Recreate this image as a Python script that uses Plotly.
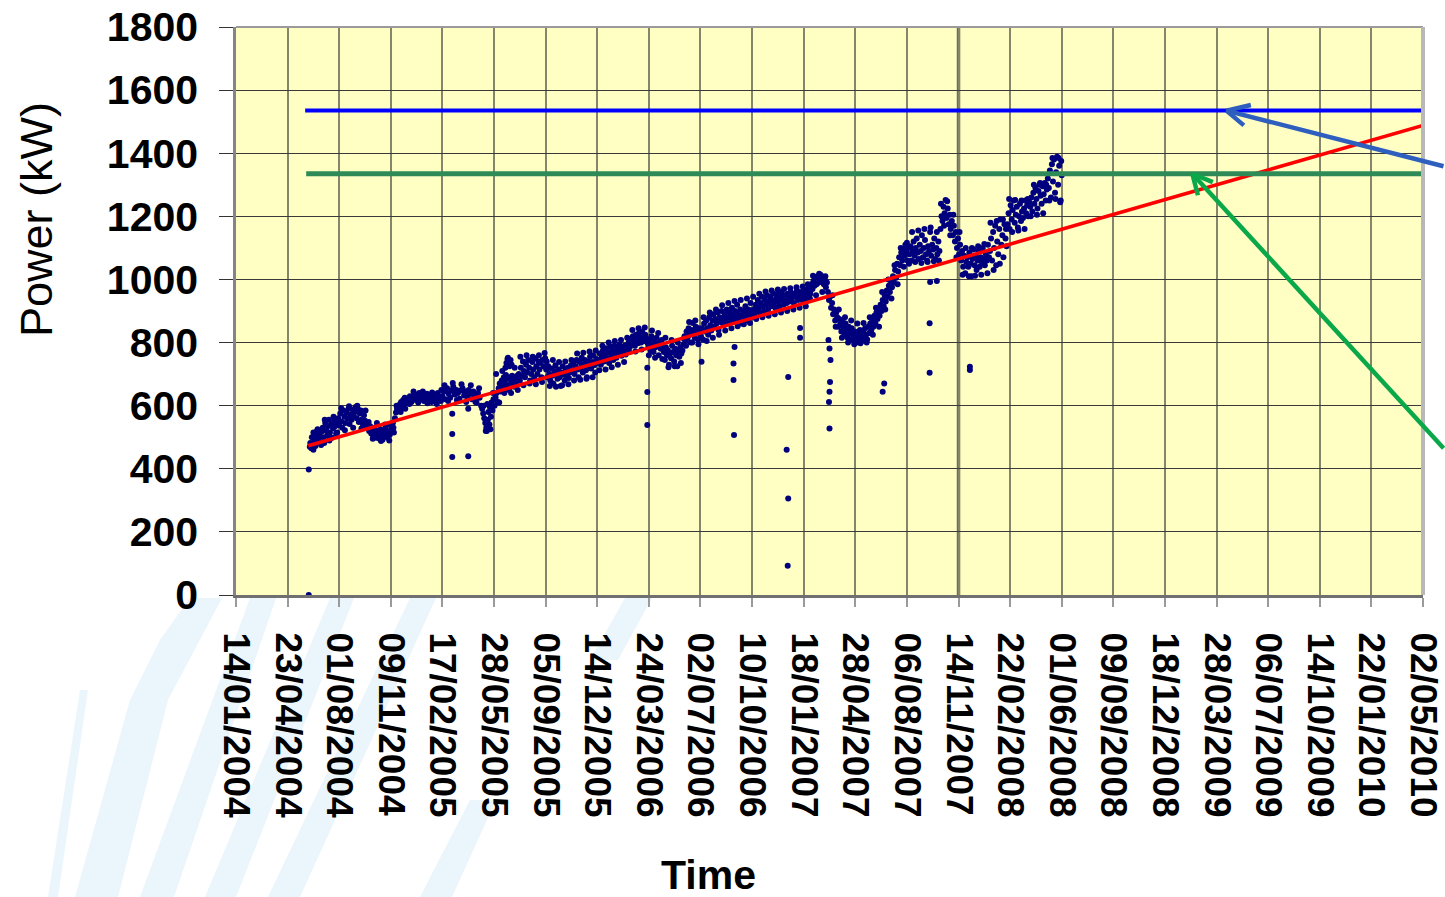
import pandas as pd
import plotly.graph_objects as go

# ---- data -----------------------------------------------------------------
START = pd.Timestamp("2004-01-14")

tick_dates = ["2004-01-14", "2004-04-23", "2004-08-01", "2004-11-09", "2005-02-17",
              "2005-05-28", "2005-09-05", "2005-12-14", "2006-03-24", "2006-07-02",
              "2006-10-10", "2007-01-18", "2007-04-28", "2007-08-06", "2007-11-14",
              "2008-02-22", "2008-06-01", "2008-09-09", "2008-12-18", "2009-03-28",
              "2009-07-06", "2009-10-14", "2010-01-22", "2010-05-02"]
tick_labels = ["14/01/2004", "23/04/2004", "01/08/2004", "09/11/2004", "17/02/2005",
               "28/05/2005", "05/09/2005", "14/12/2005", "24/03/2006", "02/07/2006",
               "10/10/2006", "18/01/2007", "28/04/2007", "06/08/2007", "14/11/2007",
               "22/02/2008", "01/06/2008", "09/09/2008", "18/12/2008", "28/03/2009",
               "06/07/2009", "14/10/2009", "22/01/2010", "02/05/2010"]

# measured power: (days since 14/01/2004, kW)
power_readings = [
    (141, 0), (141, 398),
    (143, 470), (144, 482), (146, 465), (147, 500), (149, 478), (150, 515), (152, 490), (154, 472),
    (155, 505), (157, 520), (159, 488), (160, 498), (162, 510), (164, 485), (166, 518),
    (168, 530), (170, 500), (171, 482), (173, 545), (175, 520), (177, 505), (178, 535), (180, 555),
    (182, 515), (184, 540), (186, 498), (188, 528), (190, 550), (192, 535), (194, 512), (196, 548),
    (198, 560), (200, 538), (202, 575), (204, 550), (206, 530), (208, 585), (210, 565), (212, 545),
    (214, 578), (216, 560), (218, 590), (220, 542), (222, 572), (224, 555), (226, 588), (228, 568),
    (230, 580), (232, 596), (234, 560), (236, 590), (238, 548), (240, 575), (242, 585), (244, 556),
    (246, 540), (248, 570), (250, 552), (252, 535),
    (254, 545), (256, 528), (258, 520), (260, 535), (262, 512), (264, 525), (266, 505), (268, 530),
    (270, 515), (272, 498), (274, 520), (276, 508), (278, 495), (280, 525), (282, 510), (284, 492),
    (286, 518), (288, 502), (290, 530), (292, 515), (294, 498), (296, 540), (298, 508), (300, 522),
    (302, 535), (304, 545), (306, 515),
    (308, 560), (310, 578), (312, 590), (314, 600), (316, 585), (318, 605), (320, 612), (322, 595),
    (324, 618), (326, 605), (328, 590), (330, 615), (332, 608),
    (334, 620), (337, 630), (340, 612), (343, 625), (346, 635), (349, 618), (352, 628), (355, 640),
    (358, 622), (361, 632), (364, 615), (367, 628), (370, 638), (373, 620), (376, 630), (379, 612),
    (382, 625), (385, 635), (388, 618), (391, 640), (394, 628), (397, 615),
    (400, 630), (403, 645), (406, 620), (409, 655), (412, 638), (415, 625), (418, 648), (421, 660),
    (424, 635), (427, 650), (430, 640), (433, 622), (436, 648), (439, 655), (442, 632), (445, 645),
    (448, 628), (451, 650), (454, 638), (457, 620), (460, 645), (463, 632), (466, 610), (469, 640),
    (472, 625), (475, 600),
    (477, 590), (479, 575), (481, 560), (483, 545), (485, 530), (486, 520), (488, 555), (489, 580),
    (491, 540), (492, 596), (494, 565), (495, 610), (497, 585), (499, 620), (501, 600),
    (419, 574), (419, 510), (419, 437), (450, 440), (450, 590),
    (503, 625), (505, 640), (507, 612), (509, 655), (511, 670), (513, 645), (515, 680), (517, 660),
    (519, 690), (521, 675), (523, 697), (525, 665), (527, 685), (529, 650), (531, 690), (533, 672),
    (535, 695), (537, 680), (539, 660), (541, 690), (543, 675), (545, 695),
    (522, 720), (524, 735), (526, 748), (528, 740), (530, 725), (532, 745), (534, 730),
    (548, 700), (550, 680), (552, 720), (554, 695), (556, 740), (558, 710), (560, 690), (562, 730),
    (564, 705), (566, 745), (568, 720), (570, 680), (572, 700), (574, 738), (576, 715), (578, 690),
    (580, 750), (582, 725), (584, 700), (586, 740), (588, 715), (590, 735), (592, 690), (594, 745),
    (596, 725), (598, 767), (599, 750),
    (601, 715), (603, 690), (605, 725), (607, 700), (609, 680), (611, 718), (613, 695), (615, 670),
    (617, 710), (619, 728), (621, 700), (623, 685), (625, 715), (627, 690), (629, 662), (631, 705),
    (633, 725), (635, 698), (637, 680), (639, 712), (641, 695), (643, 720), (645, 688), (647, 705),
    (649, 728),
    (652, 710), (654, 735), (656, 700), (658, 725), (660, 745), (662, 715), (664, 690), (666, 738),
    (668, 720), (670, 752), (672, 705), (674, 730), (676, 745), (678, 712), (680, 690), (682, 740),
    (684, 725), (686, 755), (688, 718), (690, 738), (692, 760), (694, 728), (696, 705), (698, 748),
    (700, 735),
    (703, 745), (705, 765), (707, 730), (709, 755), (711, 775), (713, 740), (715, 760), (717, 782),
    (719, 750), (721, 770), (723, 735), (725, 788), (727, 760), (729, 775), (731, 745), (733, 790),
    (735, 768), (737, 752), (739, 780), (741, 765), (743, 793), (745, 775), (747, 758), (749, 785),
    (751, 770), (753, 790), (755, 762), (757, 780), (759, 795),
    (761, 800), (763, 785), (765, 812), (767, 795), (769, 820), (771, 805), (773, 790), (775, 825),
    (777, 810), (779, 798), (781, 830), (783, 815), (785, 800), (787, 834), (789, 818), (791, 805),
    (793, 825), (795, 812), (797, 800),
    (797, 720), (797, 643), (797, 539),
    (799, 790), (801, 810), (803, 775), (805, 820), (807, 795), (809, 770), (811, 805), (813, 785),
    (815, 815), (817, 795), (819, 760), (821, 800), (823, 780), (825, 808), (827, 790), (829, 770),
    (831, 745), (833, 785), (835, 760), (837, 775), (839, 730), (841, 765), (843, 750), (845, 790),
    (847, 770), (849, 740), (851, 780), (853, 760), (855, 725), (857, 770), (859, 755), (861, 785),
    (863, 765), (865, 775),
    (867, 795), (869, 820), (871, 805), (873, 835), (875, 815), (877, 845), (879, 825), (881, 800),
    (883, 840), (885, 862), (887, 830), (889, 815), (891, 850), (893, 835), (895, 810), (897, 845),
    (899, 828),
    (901, 820), (903, 845), (905, 810), (907, 860), (909, 835), (911, 870), (913, 845), (915, 825),
    (917, 880), (919, 855), (921, 838), (923, 870), (925, 890), (927, 850), (929, 875), (931, 860),
    (933, 895), (935, 840), (937, 880), (939, 865), (941, 900), (943, 875), (945, 855), (947, 890),
    (949, 870), (951, 905), (953, 880), (955, 860), (957, 895), (959, 875), (961, 910), (963, 885),
    (965, 865), (967, 900), (969, 880), (971, 920), (973, 890), (975, 870), (977, 905), (979, 885),
    (981, 860), (983, 900), (985, 880), (987, 915), (989, 895), (991, 870), (993, 905), (995, 885),
    (997, 925), (999, 900), (1001, 880),
    (902, 739), (964, 734), (964, 681), (966, 786), (965, 507),
    (1003, 905), (1005, 890), (1007, 920), (1009, 900), (1011, 935), (1013, 910), (1015, 895),
    (1017, 925), (1019, 945), (1021, 915), (1023, 900), (1025, 935), (1027, 920), (1029, 950),
    (1031, 905), (1033, 930), (1035, 945), (1037, 915), (1039, 935), (1041, 955), (1043, 925),
    (1045, 910), (1047, 940), (1049, 955), (1051, 930), (1053, 915), (1055, 945), (1057, 960),
    (1059, 935), (1061, 920), (1063, 950), (1065, 940), (1067, 925), (1069, 955), (1071, 945),
    (1073, 930), (1075, 960), (1077, 940), (1079, 950), (1081, 925), (1083, 955), (1085, 945),
    (1087, 965), (1089, 935), (1091, 950), (1093, 940), (1095, 960), (1097, 945), (1099, 930),
    (1101, 955), (1103, 967), (1105, 940), (1107, 955),
    (1070, 691), (1093, 815), (1093, 846), (1067, 460), (1070, 306), (1069, 93),
    (1109, 960), (1111, 975), (1113, 955), (1115, 985), (1117, 970), (1119, 995), (1121, 980),
    (1123, 1005), (1125, 985), (1127, 1010), (1129, 990), (1131, 1000), (1133, 1014), (1135, 995),
    (1137, 1008), (1139, 985), (1141, 1000), (1143, 975),
    (1148, 808), (1150, 781), (1152, 745), (1151, 675), (1150, 644), (1149, 612), (1150, 528),
    (1145, 990), (1147, 960), (1149, 935), (1151, 945), (1153, 910), (1155, 925), (1157, 890),
    (1159, 905), (1161, 870), (1163, 895), (1165, 880), (1167, 850), (1169, 875), (1171, 860),
    (1173, 835), (1175, 870), (1177, 850), (1179, 825), (1181, 860), (1183, 840), (1185, 815),
    (1187, 850), (1189, 830), (1191, 810), (1193, 845), (1195, 825), (1197, 805), (1199, 835),
    (1201, 815), (1203, 800), (1205, 830), (1207, 810), (1209, 840), (1211, 820), (1213, 805),
    (1215, 835), (1217, 815), (1219, 845), (1221, 825), (1223, 810), (1225, 850), (1227, 830),
    (1229, 860), (1231, 840), (1233, 870), (1235, 850), (1237, 885), (1239, 860), (1241, 895),
    (1243, 875), (1245, 905), (1247, 885), (1249, 920),
    (1253, 644), (1256, 670),
    (1251, 900), (1253, 935), (1255, 915), (1257, 950), (1259, 930), (1261, 965), (1263, 945),
    (1265, 980), (1267, 960), (1269, 995), (1271, 975), (1273, 1010), (1275, 990), (1277, 1030),
    (1279, 1005), (1281, 1050), (1283, 1025), (1285, 1070), (1287, 1045), (1289, 1085),
    (1291, 1060), (1293, 1095), (1295, 1075), (1297, 1110), (1299, 1085), (1301, 1060), (1303, 1100),
    (1305, 1080), (1307, 1105), (1309, 1060), (1311, 1090), (1313, 1120), (1315, 1075), (1317, 1100),
    (1319, 1130), (1321, 1085), (1323, 1065), (1325, 1110), (1327, 1090), (1329, 1140), (1331, 1070),
    (1333, 1100), (1335, 1125), (1337, 1080), (1339, 1060), (1341, 1105), (1343, 1090), (1345, 1150),
    (1347, 1075), (1349, 1110), (1351, 1095), (1353, 1130), (1355, 1065), (1357, 1100), (1359, 1080),
    (1361, 1120), (1363, 1090),
    (1344, 861), (1344, 704), (1345, 992), (1358, 995),
    (1365, 1160), (1367, 1200), (1369, 1185), (1371, 1230), (1373, 1210), (1375, 1252), (1377, 1195),
    (1379, 1225), (1381, 1175), (1383, 1205), (1385, 1160), (1387, 1185), (1389, 1140), (1391, 1170),
    (1393, 1120), (1395, 1150), (1397, 1100), (1399, 1130), (1401, 1080), (1403, 1110), (1405, 1060),
    (1407, 1090), (1409, 1040), (1411, 1075), (1413, 1020), (1415, 1055),
    (1417, 1070), (1419, 1040), (1421, 1085), (1423, 1050), (1425, 1010), (1427, 1065), (1429, 1095),
    (1431, 1045), (1433, 1075), (1435, 1030), (1437, 1060), (1439, 1090), (1441, 1040), (1443, 1070),
    (1445, 1055), (1447, 1100), (1449, 1065), (1451, 1045), (1453, 1080), (1455, 1060), (1457, 1110),
    (1459, 1070),
    (1422, 713), (1422, 723),
    (1461, 1090), (1463, 1130), (1465, 1060), (1467, 1150), (1469, 1100), (1471, 1170), (1473, 1045),
    (1475, 1120), (1477, 1080), (1479, 1160), (1481, 1190), (1483, 1110), (1485, 1140), (1487, 1070),
    (1489, 1175), (1491, 1130), (1493, 1105),
    (1495, 1175), (1497, 1210), (1499, 1160), (1501, 1235), (1503, 1190), (1505, 1220), (1507, 1250),
    (1509, 1180), (1511, 1205), (1513, 1230), (1515, 1165), (1517, 1200), (1519, 1240), (1521, 1185),
    (1523, 1215), (1525, 1195), (1527, 1225), (1529, 1250), (1531, 1210), (1533, 1235), (1535, 1200),
    (1537, 1245),
    (1539, 1230), (1541, 1260), (1543, 1215), (1545, 1275), (1547, 1240), (1549, 1290), (1551, 1255),
    (1553, 1225), (1555, 1280), (1557, 1300), (1559, 1265), (1561, 1240), (1563, 1295), (1565, 1270),
    (1567, 1306), (1569, 1250), (1571, 1285),
    (1573, 1320), (1575, 1290), (1577, 1345), (1579, 1260), (1581, 1365), (1583, 1310), (1585, 1380),
    (1587, 1275), (1589, 1340), (1591, 1389), (1593, 1300), (1595, 1360), (1597, 1245), (1599, 1375),
    (1600, 1330),
]

# readings at the upper and lower edges of the scatter band
power_readings_edges = [
    (150, 460), (158, 525), (165, 475), (172, 555), (181, 490), (189, 565), (196, 515), (204, 592),
    (211, 522), (219, 598), (227, 530), (235, 600), (243, 528), (251, 585),
    (257, 548), (265, 495), (273, 545), (281, 488), (289, 540), (297, 490), (305, 530),
    (311, 600), (319, 580), (327, 625), (336, 605), (344, 645), (353, 610), (362, 645), (371, 608),
    (380, 642), (389, 605), (398, 650),
    (404, 665), (411, 615), (420, 672), (428, 618), (437, 668), (446, 612), (455, 665), (464, 612),
    (471, 655),
    (480, 600), (484, 520), (487, 605), (493, 525), (498, 640), (504, 700), (510, 610), (516, 710),
    (520, 640), (527, 752), (533, 640), (540, 720), (546, 650),
    (551, 755), (557, 665), (563, 760), (569, 670), (575, 755), (581, 668), (587, 760), (593, 675),
    (602, 740), (608, 662), (614, 745), (620, 660), (626, 738), (632, 665), (638, 740), (644, 668),
    (650, 745),
    (655, 680), (661, 765), (667, 682), (673, 768), (679, 685), (685, 772), (691, 690), (697, 775),
    (704, 712), (710, 790), (716, 715), (722, 800), (728, 722), (734, 805), (740, 730), (746, 808),
    (752, 738), (758, 815),
    (762, 770), (768, 840), (774, 772), (780, 845), (786, 778), (792, 848), (800, 760), (806, 838),
    (812, 752), (818, 830), (826, 748), (832, 815), (838, 722), (844, 808), (850, 725), (856, 800),
    (862, 735), (868, 812),
    (872, 790), (878, 865), (884, 800), (890, 870), (896, 795), (906, 880), (912, 805), (918, 895),
    (924, 815), (930, 905), (936, 825), (942, 918), (948, 838), (954, 925), (960, 845), (966, 932),
    (972, 852), (978, 935), (984, 858), (990, 940), (996, 862), (1002, 945),
    (1008, 875), (1014, 955), (1020, 880), (1026, 962), (1032, 885), (1038, 965), (1044, 890),
    (1050, 968), (1056, 895), (1062, 970), (1068, 900), (1074, 972), (1080, 905), (1086, 975),
    (1092, 910), (1098, 978), (1104, 915), (1108, 985),
    (1112, 940), (1118, 1012), (1124, 950), (1130, 1018), (1136, 960), (1142, 1010),
    (1156, 950), (1162, 850), (1168, 905), (1174, 815), (1180, 880), (1186, 800), (1192, 870),
    (1198, 795), (1204, 860), (1210, 798), (1216, 862), (1222, 800), (1228, 880), (1234, 825),
    (1240, 910), (1246, 850),
    (1252, 960), (1258, 905), (1264, 1000), (1270, 940), (1276, 1045), (1282, 985), (1288, 1100),
    (1294, 1040), (1300, 1116), (1304, 1050),
    (1310, 1150), (1316, 1055), (1322, 1155), (1328, 1052), (1334, 1160), (1340, 1055), (1346, 1165),
    (1352, 1058), (1358, 1150), (1362, 1060),
    (1366, 1240), (1372, 1170), (1378, 1248), (1384, 1140), (1390, 1205), (1396, 1070), (1402, 1150),
    (1408, 1015), (1414, 1100), (1420, 1010), (1426, 1100), (1432, 1012), (1438, 1105), (1444, 1015),
    (1450, 1112), (1456, 1020),
    (1462, 1180), (1468, 1030), (1474, 1185), (1480, 1050), (1486, 1190), (1492, 1160), (1498, 1255),
    (1504, 1150), (1510, 1252), (1516, 1155), (1522, 1250), (1528, 1160), (1534, 1255), (1540, 1200),
    (1546, 1300), (1552, 1205), (1558, 1306), (1564, 1210), (1570, 1300), (1576, 1250), (1582, 1385),
    (1588, 1255), (1594, 1385), (1598, 1250),
]

# linear trend of the measurements, extrapolated to 2010
trend_days = [140, 2300]
trend_kw = [473, 1488]

# two horizontal reference levels
upper_level_days = [134, 2300]
upper_level_kw = [1535, 1535]
lower_level_days = [136, 2300]
lower_level_kw = [1335, 1335]


def to_dates(days):
    return START + pd.to_timedelta(list(days), unit="D")


all_readings = power_readings + power_readings_edges
reading_days = [d for d, _ in all_readings]
reading_kw = [p for _, p in all_readings]

FONT = "Liberation Sans"
fig = go.Figure()

fig.add_trace(go.Scatter(
    x=to_dates(reading_days), y=reading_kw, mode="markers",
    marker=dict(color="#00007F", size=6, line=dict(width=0)),
    showlegend=False, hoverinfo="skip"))

fig.add_trace(go.Scatter(
    x=to_dates(trend_days), y=trend_kw, mode="lines",
    line=dict(color="#FF0000", width=3.5), showlegend=False))

fig.add_trace(go.Scatter(
    x=to_dates(upper_level_days), y=upper_level_kw, mode="lines",
    line=dict(color="#0000FF", width=4), showlegend=False))

fig.add_trace(go.Scatter(
    x=to_dates(lower_level_days), y=lower_level_kw, mode="lines",
    line=dict(color="#2E8B57", width=5), showlegend=False))

# pointer arrows reaching in from the right-hand edge
def pointer(day, kw, tail_dx, tail_dy, wings, color):
    x = to_dates([day])[0]
    for dx, dy in [(tail_dx, tail_dy)] + wings:
        fig.add_annotation(x=x, y=kw, xref="x", yref="y", text="", showarrow=True,
                           arrowhead=0, arrowwidth=4.5, arrowcolor=color,
                           ax=dx, ay=dy)

pointer(1919, 1535, 235, 56, [(26, -6), (19, 16)], "#2E5FBF")
pointer(1853, 1335, 270, 276, [(22, 9), (6, 23)], "#0BA84A")

# faint light-blue stripes in the lower-left background
stripes = [
    [(48, 897), (80, 690), (88, 690), (58, 897)],
    [(75, 897), (130, 700), (160, 640), (190, 598), (222, 598), (168, 700), (118, 897)],
    [(140, 897), (250, 598), (276, 598), (174, 897)],
    [(205, 897), (330, 598), (354, 598), (236, 897)],
    [(268, 897), (410, 598), (436, 598), (300, 897)],
    [(420, 897), (470, 800), (496, 800), (452, 897)],
    [(590, 660), (625, 598), (652, 598), (618, 660)],
]
W, H = 1445, 897
L, R, T, B = 236, 1423, 27, 595
for poly in stripes:
    pts = [((px - L) / (R - L), (B - py) / (B - T)) for px, py in poly]
    path = "M" + " L".join(f"{x:.4f},{y:.4f}" for x, y in pts) + " Z"
    fig.add_shape(type="path", path=path, xref="paper", yref="paper",
                  fillcolor="#EBF5FC", line=dict(width=0), layer="below")

# darker vertical rule at 14/11/2007
fig.add_shape(type="line", x0="2007-11-14", x1="2007-11-14", y0=0, y1=1,
              xref="x", yref="paper", line=dict(color="#6E6E52", width=3.5), layer="between")
# top and right borders of the plot area
fig.add_shape(type="line", x0=0, x1=1, y0=1, y1=1, xref="paper", yref="paper",
              line=dict(color="#9A9A9A", width=2))
fig.add_shape(type="line", x0=1, x1=1, y0=0, y1=1, xref="paper", yref="paper",
              line=dict(color="#B8B8B8", width=4))

fig.update_layout(
    width=W, height=H, template="none",
    margin=dict(l=L, r=W - R, t=T, b=H - B, pad=0),
    paper_bgcolor="white", plot_bgcolor="#FFFFC4",
    font=dict(family=FONT, color="black"),
    showlegend=False,
    xaxis=dict(
        type="date", range=[tick_dates[0], tick_dates[-1]],
        tickmode="array", tickvals=tick_dates, ticktext=tick_labels,
        tickangle=90, tickfont=dict(family=FONT, size=37, weight="bold"),
        ticks="outside", ticklen=9, tickwidth=2, tickcolor="#9A9A9A",
        ticklabelstandoff=18,
        showgrid=True, gridcolor="#85856B", gridwidth=2,
        showline=True, linecolor="#707070", linewidth=3,
        zeroline=False, automargin=False,
    ),
    yaxis=dict(
        range=[0, 1800], tickmode="array", tickvals=list(range(0, 1801, 200)),
        tickfont=dict(family=FONT, size=41, weight="bold"),
        ticks="outside", ticklen=14, tickwidth=1.2, tickcolor="#333333",
        ticklabelstandoff=13,
        showgrid=True, gridcolor="#3A3A3A", gridwidth=1.2,
        showline=True, linecolor="#858585", linewidth=2.5,
        zeroline=False, automargin=False,
    ),
    annotations=list(fig.layout.annotations) + [
        dict(text="Time", x=(708 - L) / (R - L), y=(B - 875) / (B - T),
             xref="paper", yref="paper", showarrow=False, xanchor="center", yanchor="middle",
             font=dict(family=FONT, size=41, weight="bold")),
        dict(text="Power (kW)", x=(36 - L) / (R - L), y=(B - 220) / (B - T),
             xref="paper", yref="paper", showarrow=False, textangle=-90,
             xanchor="center", yanchor="middle", font=dict(family=FONT, size=45)),
    ],
)

fig.write_html("out.html")
